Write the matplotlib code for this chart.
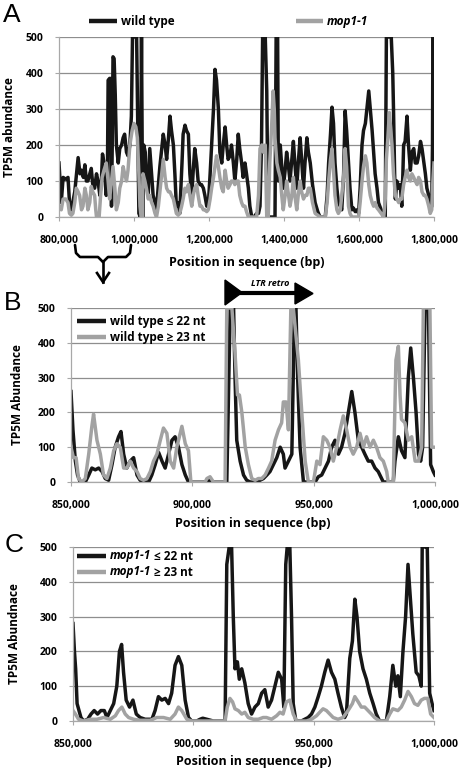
import numpy as np
import matplotlib
matplotlib.use('Agg')
import matplotlib.pyplot as plt
from matplotlib.ticker import FuncFormatter, MultipleLocator
from matplotlib.patches import Polygon

plt.rcParams['font.family'] = ['Open Sans', 'DejaVu Sans']
plt.rcParams['font.weight'] = 'bold'
plt.rcParams['axes.labelweight'] = 'bold'

# Panel A: whole region, positions in kb
a_wild = [(800, 150), (806, 40), (811, 110), (818, 105), (824, 110), (828, 40), (833, 20), (842, 70),
          (851, 165), (856, 120), (860, 130), (865, 110), (869, 145), (873, 100), (877, 100), (882, 120),
          (886, 135), (890, 90), (895, 80), (900, 120), (904, 100), (909, 60), (913, 100), (916, 175),
          (920, 150), (923, 100), (926, 60), (929, 100), (931, 380), (935, 385), (937, 385), (940, 30),
          (942, 200), (944, 445), (947, 440), (950, 340), (953, 200), (958, 150), (962, 190), (967, 200),
          (971, 220), (975, 230), (980, 180), (984, 170), (989, 200), (993, 280), (996, 500), (1007, 500),
          (1010, 250), (1013, 10), (1017, 0), (1020, 500), (1023, 0), (1026, 200), (1030, 180), (1033, 100),
          (1038, 60), (1042, 190), (1047, 120), (1051, 60), (1056, 40), (1060, 20), (1065, 90), (1069, 140),
          (1074, 190), (1078, 230), (1083, 200), (1087, 160), (1092, 220), (1096, 280), (1100, 240),
          (1105, 200), (1109, 120), (1113, 30), (1118, 40), (1122, 10), (1128, 150), (1131, 230), (1136, 255),
          (1140, 240), (1145, 230), (1149, 120), (1154, 60), (1158, 130), (1162, 190), (1167, 150),
          (1171, 100), (1176, 90), (1180, 90), (1185, 80), (1189, 60), (1194, 30), (1198, 30), (1203, 120),
          (1207, 200), (1212, 300), (1216, 410), (1220, 380), (1225, 300), (1229, 180), (1234, 150),
          (1238, 200), (1243, 250), (1247, 200), (1251, 160), (1256, 170), (1260, 200), (1265, 150),
          (1269, 100), (1274, 160), (1278, 230), (1282, 190), (1287, 150), (1291, 110), (1296, 150),
          (1300, 120), (1305, 80), (1309, 30), (1314, 0), (1320, 0), (1327, 10), (1332, 10), (1336, 30),
          (1340, 200), (1343, 500), (1350, 500), (1354, 350), (1356, 150), (1358, 0), (1366, 0), (1376, 0),
          (1379, 500), (1383, 500), (1385, 100), (1390, 200), (1394, 140), (1398, 80), (1403, 130),
          (1407, 180), (1412, 140), (1416, 100), (1421, 160), (1425, 210), (1429, 150), (1434, 80),
          (1438, 150), (1443, 220), (1447, 160), (1452, 80), (1456, 150), (1461, 220), (1465, 180),
          (1470, 150), (1476, 90), (1483, 40), (1490, 15), (1496, 0), (1503, 0), (1510, 0), (1515, 60),
          (1519, 150), (1524, 230), (1528, 305), (1532, 260), (1536, 150), (1541, 80), (1545, 40), (1550, 30),
          (1554, 20), (1559, 120), (1563, 295), (1567, 240), (1572, 150), (1576, 80), (1581, 20), (1585, 25),
          (1590, 15), (1595, 20), (1599, 10), (1603, 80), (1608, 200), (1612, 240), (1617, 260), (1621, 300),
          (1626, 350), (1630, 300), (1635, 240), (1639, 180), (1643, 120), (1648, 80), (1652, 40), (1659, 20),
          (1666, 0), (1670, 0), (1673, 500), (1677, 500), (1681, 500), (1686, 500), (1690, 400), (1692, 300),
          (1695, 120), (1697, 50), (1701, 100), (1706, 80), (1710, 90), (1712, 60), (1714, 30), (1717, 120),
          (1719, 200), (1723, 210), (1728, 280), (1732, 200), (1737, 130), (1741, 180), (1746, 190),
          (1750, 150), (1755, 150), (1759, 170), (1764, 210), (1768, 190), (1773, 150), (1777, 120),
          (1781, 80), (1786, 60), (1790, 20), (1794, 30), (1796, 200), (1797, 500), (1799, 500), (1800, 200)]

a_mop = [(800, 30), (806, 20), (811, 50), (818, 50), (824, 40), (828, 10), (833, 5), (837, 10), (842, 40),
         (846, 80), (851, 70), (855, 60), (860, 20), (864, 30), (869, 80), (873, 60), (877, 20), (882, 40),
         (886, 85), (890, 70), (895, 60), (898, 20), (900, 0), (907, 0), (911, 60), (915, 110), (920, 130),
         (926, 150), (931, 100), (935, 50), (940, 100), (944, 140), (949, 80), (953, 20), (958, 40),
         (962, 80), (967, 100), (971, 140), (975, 120), (980, 100), (984, 130), (989, 200), (995, 240),
         (1000, 260), (1005, 250), (1009, 220), (1013, 120), (1016, 30), (1019, 0), (1022, 0), (1024, 120),
         (1029, 100), (1033, 80), (1038, 50), (1042, 60), (1047, 40), (1051, 30), (1056, 10), (1060, 0),
         (1065, 30), (1069, 70), (1074, 120), (1078, 160), (1083, 110), (1087, 80), (1092, 70), (1096, 70),
         (1100, 60), (1105, 50), (1109, 30), (1113, 10), (1118, 5), (1122, 10), (1127, 30), (1131, 50),
         (1136, 80), (1140, 70), (1145, 90), (1149, 60), (1154, 30), (1158, 60), (1162, 80), (1167, 90),
         (1171, 60), (1176, 30), (1180, 30), (1185, 20), (1189, 20), (1194, 15), (1198, 20), (1203, 50),
         (1207, 80), (1212, 110), (1216, 140), (1220, 170), (1225, 140), (1229, 110), (1234, 80),
         (1238, 70), (1243, 130), (1247, 100), (1251, 80), (1256, 90), (1260, 100), (1265, 100), (1269, 90),
         (1274, 100), (1278, 100), (1282, 60), (1287, 40), (1291, 30), (1296, 30), (1300, 15), (1305, 0),
         (1314, 0), (1327, 0), (1332, 60), (1336, 190), (1341, 200), (1345, 180), (1350, 200), (1352, 100),
         (1354, 0), (1358, 0), (1362, 150), (1367, 250), (1371, 350), (1374, 300), (1376, 220), (1381, 150),
         (1385, 130), (1390, 110), (1394, 60), (1398, 20), (1403, 60), (1407, 100), (1412, 60), (1416, 30),
         (1421, 60), (1425, 110), (1429, 60), (1434, 20), (1438, 60), (1443, 100), (1447, 70), (1452, 50),
         (1456, 60), (1461, 60), (1465, 80), (1470, 80), (1476, 40), (1483, 10), (1490, 5), (1496, 0),
         (1510, 0), (1515, 40), (1519, 100), (1524, 160), (1528, 190), (1532, 130), (1536, 60), (1541, 20),
         (1545, 10), (1550, 20), (1554, 60), (1559, 110), (1563, 190), (1567, 140), (1572, 30), (1576, 10),
         (1581, 0), (1599, 0), (1603, 40), (1608, 100), (1612, 140), (1617, 170), (1621, 150), (1626, 90),
         (1630, 60), (1635, 40), (1639, 30), (1643, 40), (1648, 25), (1652, 20), (1659, 10), (1666, 0),
         (1670, 50), (1673, 160), (1677, 220), (1681, 290), (1684, 250), (1688, 200), (1692, 120),
         (1697, 60), (1701, 50), (1706, 40), (1710, 50), (1714, 50), (1719, 90), (1723, 110), (1728, 130),
         (1732, 110), (1737, 100), (1741, 120), (1746, 110), (1750, 100), (1755, 90), (1759, 110),
         (1764, 100), (1768, 70), (1773, 60), (1777, 60), (1781, 50), (1786, 30), (1790, 10), (1794, 20),
         (1797, 100), (1800, 150)]

# Panel B: wild type split by size class, kb
b_short = [(850.0, 260), (850.8, 150), (851.8, 60), (852.7, 20), (853.8, 0), (855.9, 0), (857.3, 20),
           (858.6, 40), (860.0, 35), (861.4, 40), (862.8, 30), (864.1, 10), (865.5, 5), (866.9, 50),
           (868.2, 100), (869.6, 130), (870.6, 145), (871.7, 80), (873.0, 40), (874.4, 60), (875.8, 70),
           (877.2, 20), (878.5, 5), (879.9, 0), (882.0, 0), (883.3, 20), (884.7, 50), (886.1, 85),
           (887.5, 60), (888.8, 40), (890.2, 80), (891.6, 120), (892.9, 130), (894.3, 100), (895.7, 50),
           (897.1, 20), (898.4, 0), (906.0, 0), (906.7, 10), (907.3, 0), (914.2, 0), (915.6, 500),
           (917.0, 500), (917.6, 300), (918.3, 120), (919.7, 60), (921.1, 20), (922.4, 5), (923.8, 0),
           (926.6, 0), (927.9, 5), (929.3, 10), (930.7, 20), (932.0, 30), (933.4, 50), (934.8, 70),
           (936.2, 100), (937.5, 80), (938.2, 40), (939.6, 60), (941.0, 80), (942.1, 500), (942.7, 500),
           (943.4, 300), (944.4, 100), (945.8, 0), (950.6, 0), (951.9, 15), (953.3, 20), (954.7, 40),
           (956.1, 60), (957.4, 100), (958.8, 120), (960.2, 80), (961.5, 100), (962.9, 140), (964.3, 200),
           (965.7, 260), (967.0, 200), (968.4, 120), (969.8, 100), (971.1, 80), (972.5, 60), (973.9, 60),
           (975.3, 40), (976.6, 30), (978.0, 10), (978.7, 0), (982.8, 0), (983.5, 60), (984.9, 130),
           (986.2, 90), (987.6, 70), (989.0, 300), (990.0, 385), (991.1, 300), (992.2, 200), (993.2, 80),
           (994.1, 60), (994.9, 100), (995.9, 500), (997.3, 500), (998.2, 50), (999.3, 30), (1000.0, 20)]

b_long = [(850.0, 100), (851.0, 70), (852.1, 70), (853.1, 10), (854.5, 0), (855.9, 10), (857.3, 80),
          (858.6, 160), (859.3, 195), (860.7, 120), (862.1, 80), (863.4, 20), (864.8, 10), (866.2, 40),
          (867.6, 90), (868.9, 110), (870.3, 100), (871.7, 40), (873.0, 40), (874.4, 60), (875.8, 40),
          (877.2, 30), (878.5, 10), (879.9, 5), (881.3, 10), (882.7, 30), (884.0, 60), (885.4, 80),
          (886.8, 120), (888.1, 155), (889.5, 140), (890.9, 60), (892.3, 40), (893.6, 100), (895.7, 160),
          (897.1, 110), (898.4, 90), (899.4, 0), (905.3, 0), (906.0, 10), (907.3, 15), (908.7, 0),
          (913.5, 0), (914.2, 500), (916.3, 500), (917.6, 370), (918.6, 250), (919.4, 250), (920.4, 200),
          (921.8, 100), (923.1, 50), (924.5, 10), (925.9, 5), (927.2, 10), (928.6, 10), (930.0, 20),
          (931.4, 40), (932.7, 60), (934.1, 120), (935.5, 150), (936.8, 170), (937.5, 230), (938.6, 230),
          (939.6, 150), (940.6, 500), (941.6, 500), (942.3, 450), (943.7, 350), (945.1, 200), (946.5, 60),
          (947.8, 0), (949.9, 0), (951.3, 60), (952.6, 50), (954.0, 130), (955.4, 120), (956.7, 100),
          (958.1, 60), (959.5, 100), (960.9, 150), (962.2, 190), (963.6, 150), (965.0, 100), (966.3, 80),
          (967.7, 100), (969.1, 140), (970.5, 100), (971.8, 130), (973.2, 100), (974.6, 120), (975.9, 100),
          (977.3, 70), (978.7, 60), (980.1, 30), (980.7, 0), (982.8, 0), (983.9, 350), (984.9, 390),
          (985.6, 250), (986.2, 180), (987.6, 170), (989.0, 120), (990.4, 130), (991.8, 60), (993.2, 60),
          (994.5, 100), (995.2, 500), (996.6, 500), (997.9, 500), (998.6, 100), (1000.0, 100)]

# Panel C: mop1-1 split by size class, kb
c_short = [(850.0, 280), (850.6, 200), (851.1, 150), (851.7, 50), (852.5, 30), (853.3, 10), (854.4, 0),
           (856.1, 5), (857.5, 20), (858.8, 30), (860.2, 20), (861.6, 30), (863.0, 30), (864.1, 10),
           (865.5, 30), (866.9, 50), (868.2, 100), (869.3, 200), (870.2, 220), (871.0, 140), (872.1, 60),
           (873.5, 40), (874.9, 60), (876.3, 20), (877.9, 10), (880.0, 5), (882.8, 5), (884.1, 30),
           (885.5, 70), (886.9, 60), (888.3, 65), (889.7, 50), (891.0, 80), (892.4, 160), (893.8, 185),
           (895.2, 160), (896.6, 60), (898.0, 10), (899.3, 0), (901.4, 0), (902.8, 5), (903.9, 8),
           (905.6, 5), (908.3, 0), (913.2, 0), (913.9, 450), (914.9, 500), (915.9, 500), (916.6, 300),
           (917.3, 150), (918.3, 170), (919.1, 120), (920.1, 150), (921.4, 110), (922.8, 50), (924.2, 20),
           (925.6, 40), (927.0, 50), (928.4, 80), (929.7, 90), (931.1, 40), (932.5, 60), (933.9, 100),
           (935.3, 140), (936.7, 120), (937.6, 40), (938.4, 450), (939.0, 500), (940.1, 500), (940.8, 300),
           (941.5, 50), (942.6, 0), (944.9, 0), (946.3, 5), (947.7, 10), (949.1, 20), (950.5, 40),
           (951.9, 70), (953.2, 100), (954.6, 140), (956.0, 175), (957.4, 140), (958.8, 120), (960.1, 80),
           (961.5, 40), (962.9, 10), (963.6, 20), (965.0, 180), (966.1, 230), (967.1, 350), (968.0, 300),
           (969.1, 200), (970.5, 150), (971.9, 120), (973.3, 80), (974.7, 50), (976.0, 20), (977.4, 0),
           (980.2, 0), (981.6, 70), (982.9, 160), (984.1, 100), (985.0, 130), (986.0, 70), (987.1, 200),
           (988.2, 300), (989.2, 450), (990.1, 360), (991.2, 250), (992.6, 140), (993.7, 130), (994.7, 100),
           (995.1, 500), (996.5, 500), (997.2, 500), (998.2, 80), (999.2, 50), (1000.0, 30)]

c_long = [(850.0, 30), (851.0, 20), (852.3, 5), (854.4, 0), (857.2, 5), (860.0, 5), (862.7, 10), (865.5, 5),
          (867.6, 15), (868.9, 30), (870.3, 40), (871.7, 20), (873.1, 10), (875.2, 5), (877.9, 2), (882.1, 2),
          (884.8, 10), (887.6, 10), (890.4, 5), (892.4, 20), (893.8, 40), (895.2, 30), (897.3, 5), (899.3, 0),
          (913.2, 0), (914.1, 40), (915.2, 65), (916.3, 55), (917.3, 35), (918.7, 30), (920.1, 20),
          (921.4, 25), (922.8, 10), (924.9, 5), (927.0, 5), (929.0, 10), (930.4, 10), (932.5, 5), (934.6, 15),
          (936.0, 25), (937.3, 20), (938.7, 55), (940.1, 60), (941.5, 20), (942.9, 0), (947.0, 0), (949.1, 5),
          (951.2, 15), (952.5, 25), (953.9, 35), (955.3, 30), (956.7, 20), (958.1, 10), (960.1, 5),
          (962.2, 10), (964.3, 30), (966.1, 50), (967.1, 70), (968.5, 55), (969.8, 40), (971.2, 40),
          (972.6, 30), (974.0, 20), (975.3, 10), (977.4, 0), (980.2, 0), (981.6, 20), (982.9, 35), (985.0, 30),
          (986.4, 40), (987.8, 60), (989.2, 85), (990.6, 70), (991.9, 50), (993.3, 45), (994.7, 60),
          (996.0, 65), (997.4, 65), (998.6, 20), (1000.0, 10)]

BLACK = '#161616'
GRAY = '#a2a2a2'
AXIS = '#a8a8a8'
GRID = '#8e8e8e'

W, H = 467, 769
fig = plt.figure(figsize=(W / 100, H / 100), dpi=100)


def px_axes(left, top, right, bottom):
    return fig.add_axes([left / W, 1 - bottom / H, (right - left) / W, (bottom - top) / H])


def draw_panel(ax, dark, light, xlo, xhi, step, ylabel, ylab_x, xlab_y):
    for series, col in ((dark, BLACK), (light, GRAY)):
        arr = np.array(series, dtype=float)
        ax.plot(arr[:, 0] * 1000, arr[:, 1], color=col, lw=2.5, solid_joinstyle='round')
    ax.set_xlim(xlo, xhi)
    ax.set_ylim(0, 500)
    ax.xaxis.set_major_locator(MultipleLocator(step))
    ax.yaxis.set_major_locator(MultipleLocator(100))
    ax.xaxis.set_major_formatter(FuncFormatter(lambda v, p: f'{int(round(v)):,}'))
    ax.grid(axis='y', color=GRID, lw=0.9)
    ax.set_axisbelow(True)
    for s in ('top', 'right'):
        ax.spines[s].set_visible(False)
    for s in ('left', 'bottom'):
        ax.spines[s].set_color(AXIS)
        ax.spines[s].set_linewidth(0.9)
    ax.tick_params(axis='x', length=3, color=AXIS, labelsize=7.5, pad=10)
    ax.tick_params(axis='y', length=3, color=AXIS, labelsize=7.5, pad=8)
    for lab in ax.get_xticklabels() + ax.get_yticklabels():
        lab.set_fontweight('bold')
    ax.set_ylabel(ylabel, fontsize=8.5, fontweight='bold', va='center')
    ax.yaxis.set_label_coords(ylab_x, 0.5)
    ax.set_xlabel('Position in sequence (bp)', fontsize=9, fontweight='bold')
    ax.xaxis.set_label_coords(0.5, xlab_y)


ax_a = px_axes(59, 37, 434, 217)
draw_panel(ax_a, a_wild, a_mop, 800000, 1800000, 200000, 'TP5M abundance', -0.133, -0.215)
ax_b = px_axes(71, 308, 435, 482)
draw_panel(ax_b, b_short, b_long, 850000, 1000000, 50000, 'TP5M Abundance', -0.146, -0.2)
ax_c = px_axes(73, 547, 434, 721)
draw_panel(ax_c, c_short, c_long, 850000, 1000000, 50000, 'TP5M Abundnace', -0.163, -0.195)

# overlay in pixel coordinates for legends and annotations
ov = fig.add_axes([0, 0, 1, 1])
ov.set_xlim(0, W)
ov.set_ylim(H, 0)
ov.axis('off')
ov.patch.set_alpha(0)

for lab, x, y in (('A', 12, 15), ('B', 13, 303), ('C', 14, 545)):
    ov.text(x, y, lab, fontsize=19, fontweight='normal', family='Liberation Sans',
            ha='center', va='center')

# panel A legend
ov.plot([89, 117], [21, 21], color=BLACK, lw=3.2, solid_capstyle='butt')
ov.text(121, 21, 'wild type', fontsize=8.5, va='center')
ov.plot([296, 323], [21, 21], color=GRAY, lw=3.2, solid_capstyle='butt')
ov.text(327, 21, 'mop1-1', fontsize=8.5, style='italic', va='center')

# panel B legend
ov.plot([77, 106], [321, 321], color=BLACK, lw=3.2, solid_capstyle='butt')
ov.text(110, 321, 'wild type ≤ 22 nt', fontsize=8.5, va='center')
ov.plot([77, 106], [337, 337], color=GRAY, lw=3.2, solid_capstyle='butt')
ov.text(110, 337, 'wild type ≥ 23 nt', fontsize=8.5, va='center')

# panel C legend
for y, col, rest in ((556, BLACK, ' ≤ 22 nt'), (572, GRAY, ' ≥ 23 nt')):
    ov.plot([77, 106], [y, y], color=col, lw=3.2, solid_capstyle='butt')
    t = ov.text(110, y, 'mop1-1', fontsize=8.5, style='italic', va='center')
    ov.annotate(rest, xy=(1, 0), xycoords=t, fontsize=8.5, ha='left', va='bottom')

# LTR retro arrow above panel B
ov.plot([238, 297], [293, 293], color='black', lw=3)
ov.add_patch(Polygon([(225, 280), (225, 305), (242, 292.5)], closed=True, color='black'))
ov.add_patch(Polygon([(295, 283), (295, 304), (313, 293.5)], closed=True, color='black'))
ov.text(270, 284, 'LTR retro', fontsize=6.5, style='italic', ha='center', va='center')

# brace and arrow linking A to B
bx = [75, 76, 80, 98, 103]
by = [245, 253, 257, 257, 262]
ov.plot(bx, by, color='black', lw=1.9, solid_capstyle='round', solid_joinstyle='round')
ov.plot([206 - v for v in bx], by, color='black', lw=1.9, solid_capstyle='round', solid_joinstyle='round')
ov.plot([103, 103], [262, 282], color='black', lw=1.9)
ov.plot([97, 103, 109], [273, 282, 273], color='black', lw=1.9, solid_joinstyle='miter')

fig.savefig('out.png', dpi=100)
